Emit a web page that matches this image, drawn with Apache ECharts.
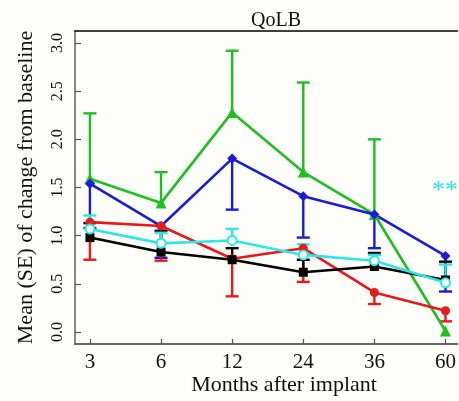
<!DOCTYPE html>
<html>
<head>
<meta charset="utf-8">
<script src="https://cdn.jsdelivr.net/npm/echarts@6/dist/echarts.min.js"></script>
<style>html,body{margin:0;padding:0;background:#fdfdfa}#c{width:459px;height:401px}</style>
</head>
<body>
<div id="c"></div>
<script>
const categories = ['3', '6', '12', '24', '36', '60'];
const yTicks = [0, 0.5, 1, 1.5, 2, 2.5, 3];
const green = [1.59, 1.34, 2.28, 1.66, 1.22, 0.01];
const greenUpper = [2.27, 1.66, 2.92, 2.59, 2.00, 0.01];
const blue = [1.54, 1.10, 1.80, 1.41, 1.22, 0.79];
const blueLower = [1.08, 0.77, 1.27, 0.98, 0.87, 0.42];
const red = [1.14, 1.10, 0.76, 0.87, 0.41, 0.22];
const redLower = [0.75, 0.74, 0.37, 0.52, 0.29, 0.11];
const black = [0.98, 0.83, 0.75, 0.62, 0.68, 0.54];
const blackUpper = [1.13, 1.05, 0.87, 0.75, 0.82, 0.73];
const cyan = [1.07, 0.92, 0.95, 0.80, 0.74, 0.51];
const cyanUpper = [1.21, 1.03, 1.07, 0.91, 0.80, 0.70];
const title = 'QoLB';
const xTitle = 'Months after implant';
const yTitle = 'Mean (SE) of change from baseline';
const note = '**';

const FONT = 'Liberation Serif';
const chart = echarts.init(document.getElementById('c'), null, {renderer: 'canvas'});

function pts(arr) { return arr.map((v, i) => [i, v]); }
function errData(mid, end) { return mid.map((v, i) => [i, v, end[i]]); }

function errSeries(mid, end, color, skip) {
  return {
    type: 'custom',
    silent: true,
    data: errData(mid, end).filter((d, i) => !(skip && skip.includes(i))),
    renderItem: function (params, api) {
      const x = api.value(0);
      const a = api.coord([x, api.value(1)]);
      const b = api.coord([x, api.value(2)]);
      const w = 6.5;
      return {
        type: 'group',
        children: [
          {type: 'line', shape: {x1: a[0], y1: a[1], x2: b[0], y2: b[1]}, style: {stroke: color, lineWidth: 2.4}},
          {type: 'line', shape: {x1: b[0] - w, y1: b[1], x2: b[0] + w, y2: b[1]}, style: {stroke: color, lineWidth: 2.4}}
        ]
      };
    }
  };
}

function lineSeries(arr, color, symbol, size, extra) {
  return Object.assign({
    type: 'line',
    data: pts(arr),
    symbol: symbol,
    symbolSize: size,
    lineStyle: {color: color, width: 2.6},
    itemStyle: {color: color},
    silent: true,
    animation: false
  }, extra || {});
}

const C = {green: '#1fbf1f', blue: '#1a1ad8', red: '#e61a1a', black: '#000000', cyan: '#2ee6e6'};

chart.setOption({
  backgroundColor: '#fdfdfa',
  animation: false,
  title: {
    text: title, left: 271, top: 6, textAlign: 'center',
    textStyle: {fontFamily: FONT, fontSize: 20, fontWeight: 'normal', color: '#111'}
  },
  grid: {left: 75, right: 0, top: 31, bottom: 57, containLabel: false},
  xAxis: [{
    type: 'value', min: -0.21, max: 5.168,
    axisLine: {show: true, onZero: false, lineStyle: {color: '#666', width: 2}},
    axisTick: {show: true, inside: true, length: 5, customValues: [0, 1, 2, 3, 4, 5], lineStyle: {color: '#555', width: 1.2}},
    axisLabel: {customValues: [0, 1, 2, 3, 4, 5], formatter: v => categories[Math.round(v)], fontFamily: FONT, fontSize: 21, color: '#111', margin: 8},
    splitLine: {show: false}
  }, {
    type: 'value', position: 'top', min: -0.21, max: 5.168,
    axisLine: {show: true, onZero: false, lineStyle: {color: '#000', width: 1.5}},
    axisTick: {show: false}, axisLabel: {show: false}, splitLine: {show: false}
  }],
  yAxis: {
    type: 'value', min: -0.125, max: 3.125,
    name: yTitle, nameLocation: 'middle', nameRotate: 90, nameGap: 38,
    nameTextStyle: {fontFamily: FONT, fontSize: 22, color: '#111'},
    axisLine: {show: true, onZero: false, lineStyle: {color: '#888', width: 2}},
    axisTick: {show: true, inside: true, length: 6, customValues: yTicks, lineStyle: {color: '#555', width: 1.2}},
    axisLabel: {customValues: yTicks, formatter: v => v.toFixed(1), rotate: 90, fontFamily: FONT, fontSize: 16, color: '#111', margin: 9},
    splitLine: {show: false}
  },
  graphic: [
    {type: 'text', x: 432, y: 191, style: {text: note, fill: C.cyan, font: '26px "Liberation Serif"', textVerticalAlign: 'middle'}},
    {type: 'text', x: 284, y: 385, style: {text: xTitle, fill: '#111', font: '22px "Liberation Serif"', textAlign: 'center', textVerticalAlign: 'middle'}}
  ],
  series: [
    errSeries(green, greenUpper, C.green, [5]),
    lineSeries(green, C.green, 'triangle', 11),
    errSeries(blue, blueLower, C.blue),
    lineSeries(blue, C.blue, 'diamond', 10),
    errSeries(red, redLower, C.red),
    lineSeries(red, C.red, 'circle', 9),
    errSeries(black, blackUpper, C.black),
    lineSeries(black, C.black, 'rect', 9),
    errSeries(cyan, cyanUpper, C.cyan),
    lineSeries(cyan, C.cyan, 'emptyCircle', 9, {itemStyle: {color: C.cyan, borderColor: C.cyan, borderWidth: 2.2}})
  ]
});
</script>
</body>
</html>
